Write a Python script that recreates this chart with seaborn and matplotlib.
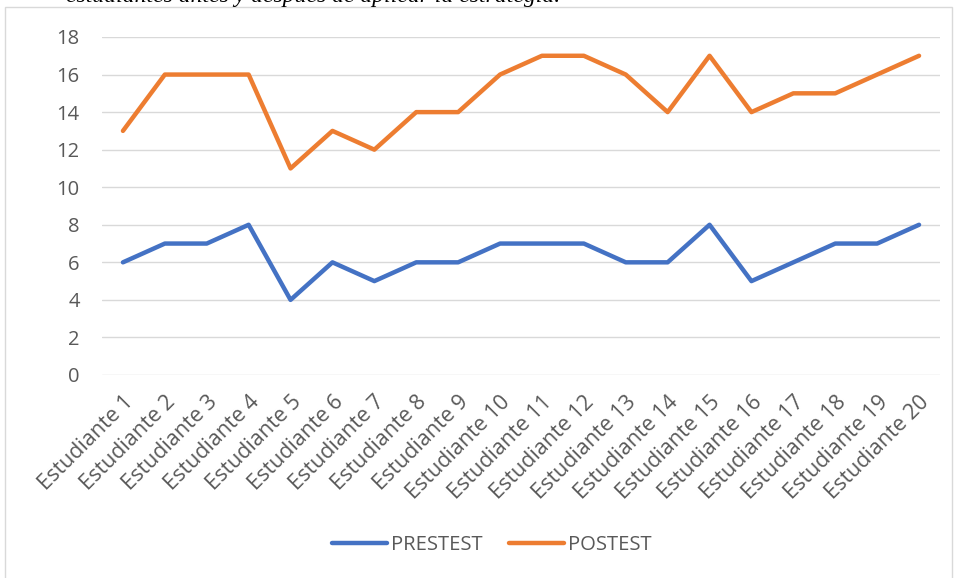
import matplotlib
matplotlib.use("Agg")
import matplotlib.pyplot as plt
import seaborn as sns
import pandas as pd
from matplotlib.patches import Rectangle
from matplotlib.lines import Line2D

students = [f"Estudiante {i}" for i in range(1, 21)]
prestest = [6, 7, 7, 8, 4, 6, 5, 6, 6, 7, 7, 7, 6, 6, 8, 5, 6, 7, 7, 8]
postest = [13, 16, 16, 16, 11, 13, 12, 14, 14, 16, 17, 17, 16, 14, 17, 14, 15, 15, 16, 17]
series_names = ["PRESTEST", "POSTEST"]
colors = ["#4472C4", "#ED7D31"]
yticks = [0, 2, 4, 6, 8, 10, 12, 14, 16, 18]

sns.set_theme(style="white")
plt.rcParams['font.family'] = ['Open Sans', 'DejaVu Sans']

df = pd.DataFrame({
    "Estudiante": students * 2,
    "Puntaje": prestest + postest,
    "Serie": [series_names[0]] * len(students) + [series_names[1]] * len(students),
})
df["x"] = list(range(len(students))) * 2

fig = plt.figure(figsize=(9.57, 5.78), dpi=100)
W, H = 957, 578

# chart border
fig.patches.append(Rectangle((5 / W, -0.02), (952 - 5) / W, 1 - 7 / H + 0.02,
                             transform=fig.transFigure, fill=False,
                             edgecolor="#D9D9D9", linewidth=1.0))

# caption cut by the top edge, as in the source
fig.text(560 / W, 1 - 2 / H, "estudiantes antes y después de aplicar la estrategia.",
         ha="right", va="baseline", fontsize=17, style="italic",
         family=["Liberation Serif", "DejaVu Serif"], color="black")

ax = fig.add_axes([102 / W, 1 - 375 / H, (940 - 102) / W, (375 - 37) / H])
sns.lineplot(data=df, x="x", y="Puntaje", hue="Serie", palette=colors,
             linewidth=3.2, ax=ax, legend=False, sort=False)
for ln in ax.lines:
    ln.set_solid_capstyle("round")
    ln.set_solid_joinstyle("round")

ax.set_xlim(-0.5, len(students) - 0.5)
ax.set_ylim(0, 18)
ax.set_yticks(yticks)
ax.set_yticklabels([str(v) for v in yticks], fontsize=14.5, color="#595959")
ax.set_xticks(range(len(students)))
ax.set_xticklabels(students, rotation=45, ha="right", rotation_mode="anchor",
                   fontsize=15.5, color="#595959")
ax.tick_params(axis="both", length=0)
ax.tick_params(axis="y", pad=16)
ax.tick_params(axis="x", pad=12)
ax.set_xlabel("")
ax.set_ylabel("")
ax.grid(axis="y", color="#D9D9D9", linewidth=1.0)
ax.set_axisbelow(True)
for s in ax.spines.values():
    s.set_visible(False)

handles = [Line2D([0], [0], color=c, linewidth=3.2, solid_capstyle="round")
           for c in colors]
fig.legend(handles, series_names, loc="center", bbox_to_anchor=(492 / W, 1 - 545 / H),
           ncol=2, frameon=False, fontsize=14.6, handlelength=2.7, handletextpad=0.2,
           columnspacing=1.3, labelcolor="#595959")

fig.savefig("out.png", dpi=100)
